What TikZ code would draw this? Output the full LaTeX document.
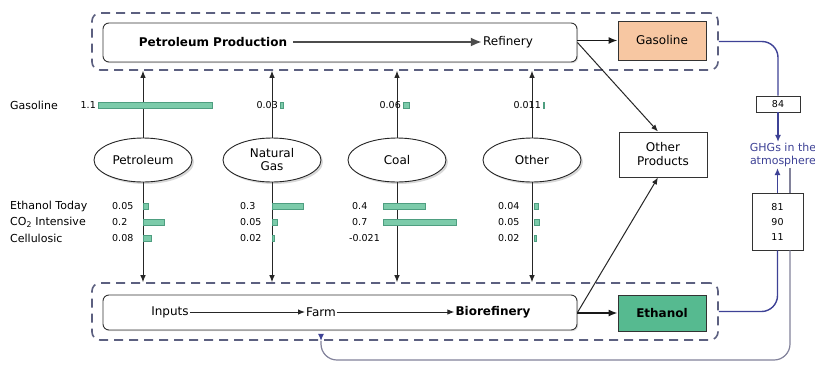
\documentclass[tikz,border=0pt]{standalone}
\usepackage{fontspec}
\setmainfont{DejaVu Sans}
\usetikzlibrary{shapes.geometric,arrows.meta,shadows}
\definecolor{dashcol}{RGB}{92,96,128}
\definecolor{gasfill}{RGB}{247,199,162}
\definecolor{ethfill}{RGB}{86,186,144}
\definecolor{barfill}{RGB}{124,203,170}
\definecolor{bardraw}{RGB}{78,158,128}
\definecolor{ghgblue}{RGB}{62,66,150}
\definecolor{retgray}{RGB}{130,130,155}
\newcommand\gbar[3]{\filldraw[barstyle] (#1,#2-3) rectangle ++(#3,6);}
\begin{document}
\begin{tikzpicture}[x=1pt,y=-1pt,
  groupbox/.style={draw=dashcol, line width=1.6pt, dash pattern=on 9pt off 6pt, rounded corners=8pt, inner sep=0pt},
  procbox/.style={draw=black!80, line width=0.9pt, rounded corners=6pt, fill=white, inner sep=0pt,
     drop shadow={shadow xshift=1.2pt,shadow yshift=-1.2pt,opacity=0.25}},
  outbox/.style={draw=black!80, line width=0.9pt, inner sep=0pt},
  src/.style={ellipse, draw=black!85, line width=0.9pt, fill=white, minimum width=98pt, minimum height=44pt,
     inner sep=0pt, align=center, font=\fontsize{12}{13}\selectfont,
     drop shadow={shadow xshift=2pt,shadow yshift=-2pt,opacity=0.3}},
  ptext/.style={inner sep=1pt, font=\fontsize{12}{14}\selectfont},
  lab/.style={anchor=west, inner sep=0pt, font=\fontsize{11}{13}\selectfont},
  num/.style={inner sep=0pt, font=\fontsize{9.5}{11}\selectfont},
  arr/.style={draw=black!85, line width=1pt, -{Latex[length=7pt,width=5.5pt]}},
  bigarr/.style={draw=black!70, line width=2.6pt, -{Latex[length=11pt,width=9pt]}},
  midarr/.style={draw=black!90, line width=1.5pt, -{Latex[length=9pt,width=7pt]}},
  blueline/.style={draw=ghgblue, line width=1.4pt},
  bluearr/.style={draw=ghgblue, line width=1.4pt, -{Latex[length=7pt,width=6pt]}},
  retline/.style={draw=retgray, line width=1.2pt},
  barstyle/.style={fill=barfill, draw=bardraw, line width=0.5pt}
]
\useasboundingbox (0,0) rectangle (815,365);
\fill[white] (0,0) rectangle (815,365);

% group boxes
\node[groupbox, minimum width=626pt, minimum height=57pt] (topgrp) at (405,41.5) {};
\node[groupbox, minimum width=626pt, minimum height=57pt] (botgrp) at (405,311.5) {};

% process rectangles
\node[procbox, minimum width=474pt, minimum height=39pt] (toprect) at (340,42.5) {};
\node[procbox, minimum width=474pt, minimum height=35pt] (botrect) at (340,312.5) {};

\node[ptext, font=\fontsize{12}{14}\selectfont\bfseries] (pp) at (213,42) {Petroleum Production};
\node[ptext] (ref) at (508,42) {Refinery};
\node[ptext] (inp) at (170,312) {Inputs};
\node[ptext] (farm) at (321,312) {Farm};
\node[ptext, font=\fontsize{12}{14}\selectfont\bfseries] (bio) at (493,312) {Biorefinery};

\draw[bigarr] (pp.east) ++(5,0) coordinate (ppa) (ppa) -- (ref.west);
\draw[arr] (inp) -- (farm);
\draw[arr] (farm) -- (bio);

% output boxes
\node[outbox, fill=gasfill, minimum width=88pt, minimum height=39pt, font=\fontsize{12}{14}\selectfont] (gas) at (662,40.5) {Gasoline};
\node[outbox, fill=ethfill, minimum width=88pt, minimum height=36pt, font=\fontsize{12}{14}\selectfont\bfseries] (eth) at (662,313) {Ethanol};
\node[outbox, fill=white, minimum width=88pt, minimum height=45pt, align=center, font=\fontsize{12}{14}\selectfont] (op) at (663,154.5) {Other\\Products};

\draw[midarr] (gas.west -| toprect.east) -- (gas.west);
\draw[midarr] (eth.west -| botrect.east) -- (eth.west);
\draw[arr] (toprect.east) -- ([xshift=-5pt]op.north);
\draw[arr] (botrect.east) -- ([xshift=-5pt]op.south);

% sources
\node[src] (pet) at (143,160) {Petroleum};
\node[src] (ng) at (272,160) {Natural\\Gas};
\node[src] (coal) at (397,160) {Coal};
\node[src] (oth) at (532,160) {Other};

\foreach \s in {pet,ng,coal,oth}{
  \draw[arr] (\s.north) -- (\s.north |- topgrp.south);
  \draw[arr] (\s.south) -- (\s.south |- botgrp.north);
}

% gasoline row
\node[lab] (lgas) at (10,105) {Gasoline};
\gbar{98}{105}{114}
\node[num, anchor=east] (g1) at (96,105) {1.1};
\gbar{280}{105}{3}
\node[num, anchor=east] (g2) at (278,105) {0.03};
\gbar{403}{105}{6}
\node[num, anchor=east] (g3) at (401,105) {0.06};
\gbar{543}{105}{1.5}
\node[num, anchor=east] (g4) at (541,105) {0.011};

% ethanol rows
\node[lab] (l1) at (10,206) {Ethanol Today};
\node[lab] (l2) at (10,222) {CO\textsubscript{2} Intensive};
\node[lab] (l3) at (10,238) {Cellulosic};

\node[num, anchor=west] (p1) at (112,206) {0.05};
\node[num, anchor=west] (p2) at (112,222) {0.2};
\node[num, anchor=west] (p3) at (112,238) {0.08};
\gbar{143}{206}{5} \gbar{143}{222}{21} \gbar{143}{238}{8}

\node[num, anchor=west] (n1) at (240,206) {0.3};
\node[num, anchor=west] (n2) at (240,222) {0.05};
\node[num, anchor=west] (n3) at (240,238) {0.02};
\gbar{272}{206}{31} \gbar{272}{222}{5} \gbar{272}{238}{2}

\node[num, anchor=west] (c1) at (352,206) {0.4};
\node[num, anchor=west] (c2) at (352,222) {0.7};
\node[num, anchor=west] (c3) at (349,238) {-0.021};
\gbar{383}{206}{42} \gbar{383}{222}{73}

\node[num, anchor=west] (o1) at (498,206) {0.04};
\node[num, anchor=west] (o2) at (498,222) {0.05};
\node[num, anchor=west] (o3) at (498,238) {0.02};
\gbar{534}{206}{4} \gbar{534}{222}{5} \gbar{534}{238}{2}

% right side
\node[outbox, fill=white, minimum width=44pt, minimum height=16pt, font=\fontsize{9.5}{11}\selectfont] (b84) at (778,104) {84};
\node[outbox, fill=white, minimum width=51pt, minimum height=57pt, align=center, font=\fontsize{9.5}{15}\selectfont] (b81) at (777.5,221.5) {81\\90\\11};
\node[inner sep=1pt, align=center, text=ghgblue, font=\fontsize{11}{13}\selectfont] (ghg) at (783,155) {GHGs in the\\atmosphere};

\draw[blueline, rounded corners=16pt] (topgrp.east) -- (topgrp.east -| b84.north) -- (b84.north);
\draw[bluearr] (b84.south) -- (b84.south |- ghg.north);
\draw[bluearr] (b81.north) -- (b81.north |- ghg.south);
\draw[blueline, rounded corners=16pt] (botgrp.east) -- (botgrp.east -| b81.south) -- (b81.south);

\coordinate (ret) at (790,360);
\draw[retline] ([xshift=12.5pt]b81.north) -- ([xshift=12.5pt]b81.north |- ghg.south);
\draw[retline, rounded corners=16pt] ([xshift=12.5pt]b81.south) -- (ret) -- (ret -| farm) -- (farm |- botgrp.south);
\draw[bluearr, line width=1pt] ([yshift=6pt]farm |- botgrp.south) -- (farm |- botgrp.south);
\end{tikzpicture}
\end{document}
